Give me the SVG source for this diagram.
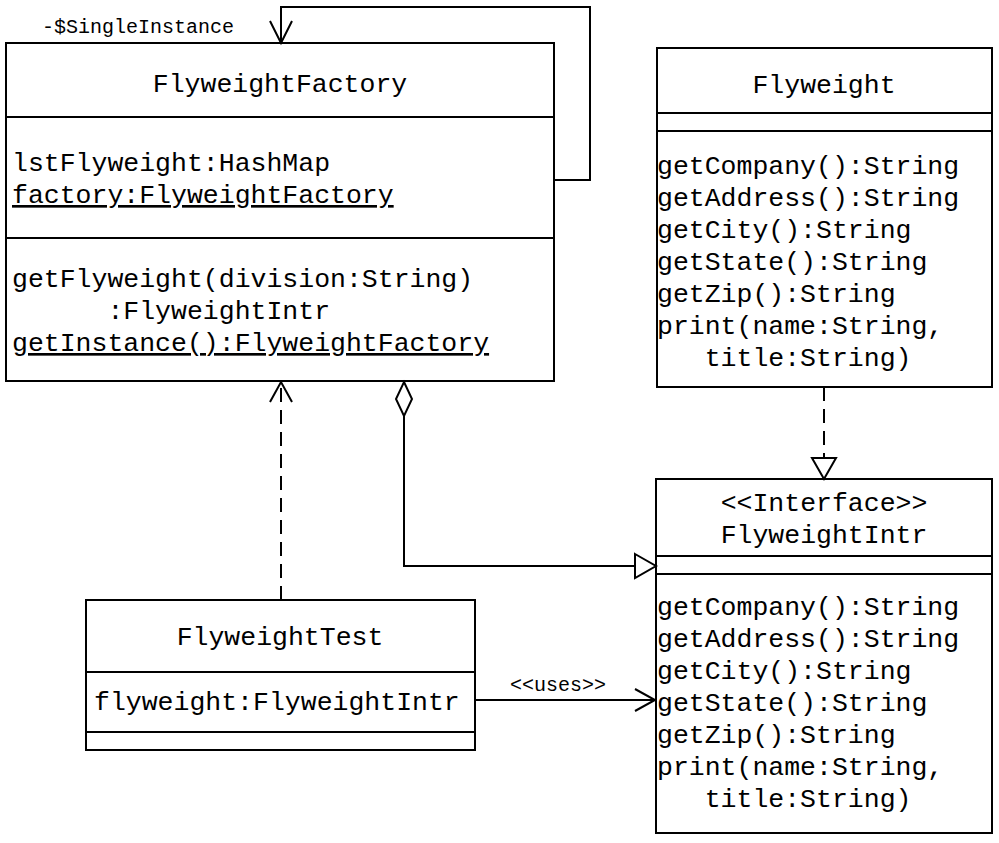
<svg xmlns="http://www.w3.org/2000/svg" width="999" height="843" viewBox="0 0 999 843">
<style>
.box{fill:#fff;stroke:#000;stroke-width:2}
.ln{stroke:#000;stroke-width:2;fill:none}
.dash{stroke:#000;stroke-width:2;fill:none;stroke-dasharray:14,8}
.t{font-family:"Liberation Mono","Courier New",monospace;font-size:26.5px;fill:#000}
.c{text-anchor:middle}
.s{font-family:"Liberation Mono","Courier New",monospace;font-size:20px;fill:#000}
.u{text-decoration:underline}
</style>
<rect width="999" height="843" fill="#fff"/>
<g id="FlyweightFactory">
<rect class="box" x="6" y="43" width="548" height="338"/>
<line class="ln" x1="6" y1="117" x2="554" y2="117"/>
<line class="ln" x1="6" y1="238" x2="554" y2="238"/>
<text class="t c" x="280" y="92">FlyweightFactory</text>
<text class="t" x="12" y="171">lstFlyweight:HashMap</text>
<text class="t u" x="12" y="203">factory:FlyweightFactory</text>
<text class="t" x="12" y="287">getFlyweight(division:String)</text>
<text class="t" x="12" y="319" xml:space="preserve">      :FlyweightIntr</text>
<text class="t u" x="12" y="351">getInstance():FlyweightFactory</text>
</g>
<g id="Flyweight">
<rect class="box" x="657" y="48" width="335" height="339"/>
<line class="ln" x1="657" y1="113" x2="992" y2="113"/>
<line class="ln" x1="657" y1="131" x2="992" y2="131"/>
<text class="t c" x="824" y="93">Flyweight</text>
<text class="t" x="657" y="174">getCompany():String</text>
<text class="t" x="657" y="206">getAddress():String</text>
<text class="t" x="657" y="238">getCity():String</text>
<text class="t" x="657" y="270">getState():String</text>
<text class="t" x="657" y="302">getZip():String</text>
<text class="t" x="657" y="334">print(name:String,</text>
<text class="t" x="657" y="366" xml:space="preserve">   title:String)</text>
</g>
<g id="FlyweightIntr">
<rect class="box" x="656" y="479" width="336" height="354"/>
<line class="ln" x1="656" y1="556" x2="992" y2="556"/>
<line class="ln" x1="656" y1="574" x2="992" y2="574"/>
<text class="t c" x="824" y="511">&lt;&lt;Interface&gt;&gt;</text>
<text class="t c" x="824" y="543">FlyweightIntr</text>
<text class="t" x="657" y="615">getCompany():String</text>
<text class="t" x="657" y="647">getAddress():String</text>
<text class="t" x="657" y="679">getCity():String</text>
<text class="t" x="657" y="711">getState():String</text>
<text class="t" x="657" y="743">getZip():String</text>
<text class="t" x="657" y="775">print(name:String,</text>
<text class="t" x="657" y="807" xml:space="preserve">   title:String)</text>
</g>
<g id="FlyweightTest">
<rect class="box" x="86" y="600" width="389" height="150"/>
<line class="ln" x1="86" y1="672" x2="475" y2="672"/>
<line class="ln" x1="86" y1="732" x2="475" y2="732"/>
<text class="t c" x="280" y="645">FlyweightTest</text>
<text class="t" x="94" y="710">flyweight:FlyweightIntr</text>
</g>
<g id="connectors">
<polyline class="ln" points="554,180 590,180 590,7 281,7 281,43"/>
<polyline class="ln" points="270,21 281,43 292,21"/>
<text class="s" x="42" y="33">-$SingleInstance</text>
<line class="dash" x1="281" y1="600" x2="281" y2="383"/>
<polyline class="ln" points="270,402 281,382 292,402"/>
<polygon class="box" points="404,382 412,399 404,416 396,399"/>
<polyline class="ln" points="404,416 404,566 635,566"/>
<polygon class="box" points="635,554 656,566 635,578"/>
<line class="dash" x1="824" y1="387" x2="824" y2="458"/>
<polygon class="box" points="812,458 836,458 824,479"/>
<line class="ln" x1="475" y1="700" x2="655" y2="700"/>
<polyline class="ln" points="635,689 655,700 635,711"/>
<text class="s" x="510" y="691">&lt;&lt;uses&gt;&gt;</text>
</g>
</svg>
